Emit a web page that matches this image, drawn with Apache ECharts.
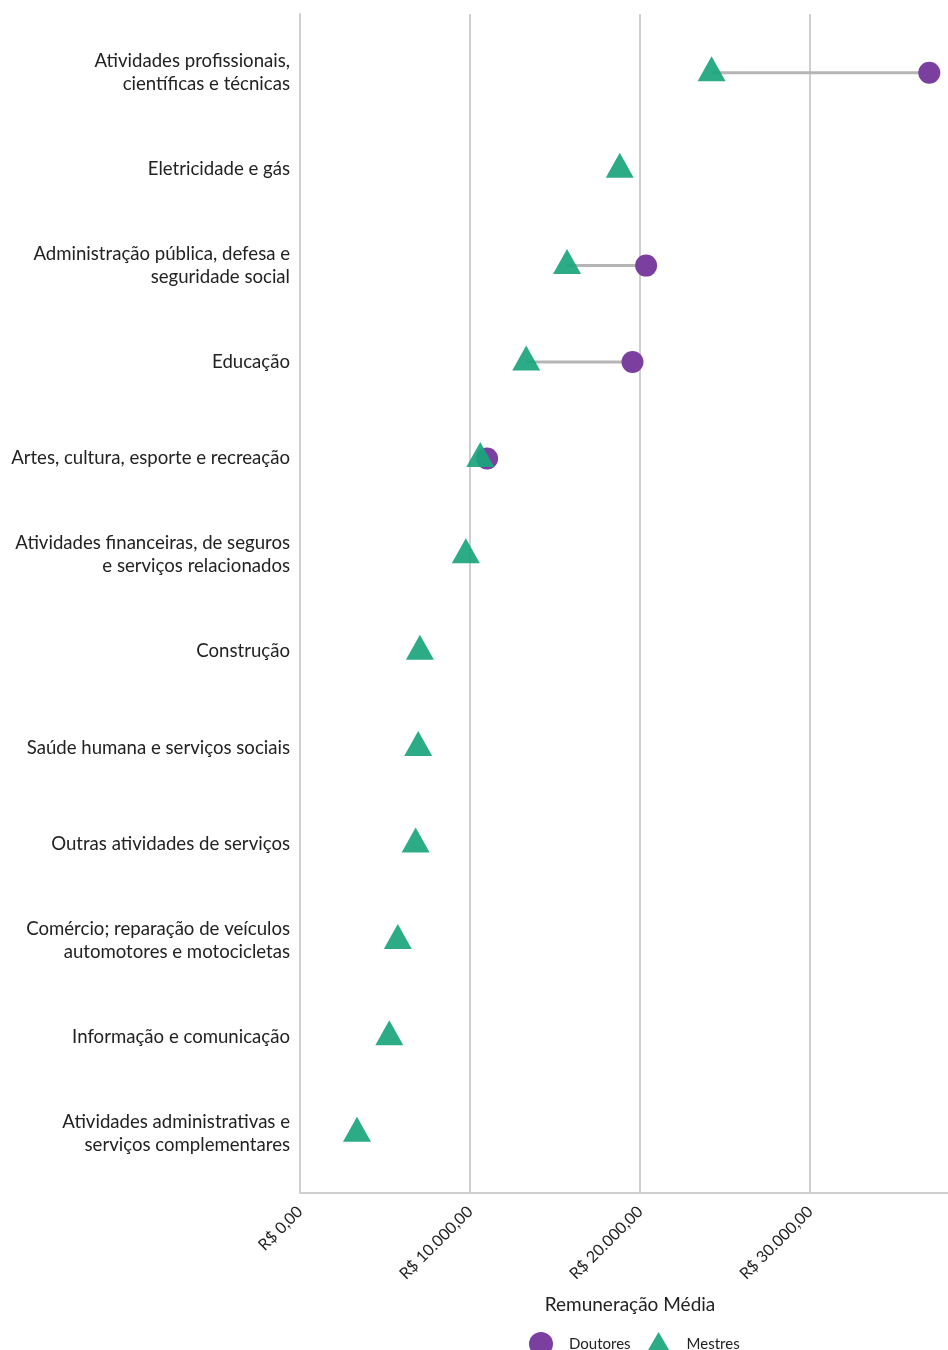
<!DOCTYPE html>
<html>
<head>
<meta charset="utf-8">
<script src="https://cdn.jsdelivr.net/npm/echarts@6/dist/echarts.min.js"></script>
<style>html,body{margin:0;padding:0;background:#fff}#c{width:948px;height:1350px}</style>
</head>
<body>
<div id="c"></div>
<script>
const categories = [
  'Atividades profissionais,\ncientíficas e técnicas',
  'Eletricidade e gás',
  'Administração pública, defesa e\nseguridade social',
  'Educação',
  'Artes, cultura, esporte e recreação',
  'Atividades financeiras, de seguros\ne serviços relacionados',
  'Construção',
  'Saúde humana e serviços sociais',
  'Outras atividades de serviços',
  'Comércio; reparação de veículos\nautomotores e motocicletas',
  'Informação e comunicação',
  'Atividades administrativas e\nserviços complementares'
];
const mestres = [24200, 18800, 15700, 13300, 10600, 9750, 7050, 6950, 6800, 5750, 5250, 3350];
const doutores = [37000, null, 20350, 19550, 11000, null, null, null, null, null, null, null];
const xTicks = [0, 10000, 20000, 30000];

function brl(v) {
  const parts = v.toFixed(2).split('.');
  const intPart = parts[0].replace(/\B(?=(\d{3})+(?!\d))/g, '.');
  return 'R$ ' + intPart + ',' + parts[1];
}

const FONT = 'Lato, "Open Sans", sans-serif';
const chart = echarts.init(document.getElementById('c'));

const linkData = [];
categories.forEach((c, i) => {
  if (doutores[i] != null) linkData.push([mestres[i], doutores[i], i]);
});

chart.setOption({
  animation: false,
  grid: { left: 300, right: 0, top: 14, bottom: 157, containLabel: false },
  xAxis: {
    type: 'value', min: 0, max: 38100,
    name: 'Remuneração Média', nameLocation: 'middle', nameGap: 102,
    nameTextStyle: { fontFamily: FONT, fontSize: 19, color: '#222', padding: [0, 0, 0, 12] },
    axisLine: { show: true, onZero: false, lineStyle: { color: '#cfcfcf', width: 2 } },
    axisTick: { show: false, customValues: xTicks },
    axisLabel: {
      customValues: xTicks, rotate: 45, margin: 16,
      fontFamily: FONT, fontSize: 16, color: '#222',
      formatter: v => brl(v)
    },
    splitLine: { show: true, lineStyle: { color: '#cfcfcf', width: 2 } }
  },
  yAxis: {
    type: 'value', inverse: true, min: -0.61, max: 11.62,
    axisLine: { show: true, onZero: false, lineStyle: { color: '#cfcfcf', width: 2 } },
    axisTick: { show: false, customValues: categories.map((c, i) => i) },
    splitLine: { show: false },
    axisLabel: {
      customValues: categories.map((c, i) => i), margin: 10,
      fontFamily: FONT, fontSize: 18.6, lineHeight: 23, color: '#222', align: 'right',
      formatter: v => categories[Math.round(v)] || ''
    }
  },
  legend: {
    data: [
      { name: 'Doutores', icon: 'circle' },
      { name: 'Mestres', icon: 'triangle' }
    ],
    left: 524, top: 1327, itemWidth: 28, itemHeight: 24, itemGap: 14,
    textStyle: { fontFamily: FONT, fontSize: 15, color: '#222', padding: [0, 0, 0, 9] }
  },
  series: [
    {
      type: 'custom', name: 'link', silent: true, z: 1,
      data: linkData,
      encode: { x: [0, 1], y: 2 },
      renderItem: function (params, api) {
        const a = api.coord([api.value(0), api.value(2)]);
        const b = api.coord([api.value(1), api.value(2)]);
        return { type: 'line', shape: { x1: a[0], y1: a[1], x2: b[0], y2: b[1] },
                 style: { stroke: '#b5b5b5', lineWidth: 3 } };
      }
    },
    {
      type: 'scatter', name: 'Doutores', z: 2,
      symbol: 'circle', symbolSize: 22,
      itemStyle: { color: '#7b3f9f', opacity: 1 },
      data: doutores.map((v, i) => v == null ? null : [v, i]).filter(d => d)
    },
    {
      type: 'scatter', name: 'Mestres', z: 3,
      symbol: 'triangle', symbolSize: [28, 25], symbolOffset: [0, -4],
      itemStyle: { color: '#19a57c', opacity: 0.92 },
      data: mestres.map((v, i) => [v, i])
    }
  ]
});
</script>
</body>
</html>
